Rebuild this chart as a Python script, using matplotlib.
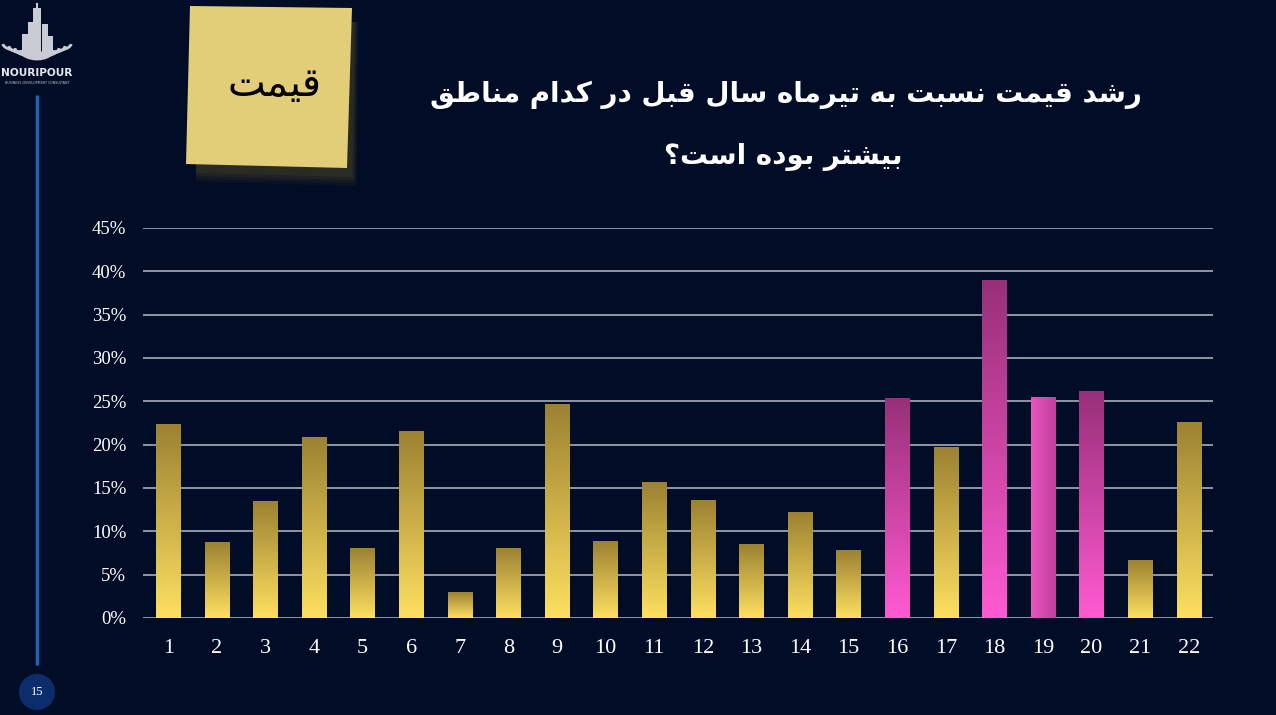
import numpy as np
import matplotlib
matplotlib.use('Agg')
import matplotlib.pyplot as plt
from matplotlib.patches import Polygon, Rectangle, Circle, Arc

# region ids and price growth vs. same quarter last year (fraction)
regions = [str(i) for i in range(1, 23)]
growth = [0.223, 0.087, 0.134, 0.208, 0.080, 0.215, 0.030, 0.080, 0.246, 0.088, 0.156,
          0.136, 0.085, 0.122, 0.078, 0.253, 0.197, 0.389, 0.255, 0.261, 0.066, 0.226]
# regions highlighted in pink
highlight = ['16', '18', '19', '20']
y_ticks = [0.0, 0.05, 0.10, 0.15, 0.20, 0.25, 0.30, 0.35, 0.40, 0.45]

title_line1 = 'رشد قیمت نسبت به تیرماه سال قبل در کدام مناطق'
title_line2 = 'بیشتر بوده است؟'
note_text = 'قیمت'
page_no = '15'

BG = '#010d27'

# --- tiny persian shaper (matplotlib has no arabic shaping) ---
FORMS = {  # isolated, final, initial, medial
    'ا': ('\uFE8D', '\uFE8E', None, None),
    'ب': ('\uFE8F', '\uFE90', '\uFE91', '\uFE92'),
    'ت': ('\uFE95', '\uFE96', '\uFE97', '\uFE98'),
    'د': ('\uFEA9', '\uFEAA', None, None),
    'ر': ('\uFEAD', '\uFEAE', None, None),
    'س': ('\uFEB1', '\uFEB2', '\uFEB3', '\uFEB4'),
    'ش': ('\uFEB5', '\uFEB6', '\uFEB7', '\uFEB8'),
    'ط': ('\uFEC1', '\uFEC2', '\uFEC3', '\uFEC4'),
    'ق': ('\uFED5', '\uFED6', '\uFED7', '\uFED8'),
    'ل': ('\uFEDD', '\uFEDE', '\uFEDF', '\uFEE0'),
    'م': ('\uFEE1', '\uFEE2', '\uFEE3', '\uFEE4'),
    'ن': ('\uFEE5', '\uFEE6', '\uFEE7', '\uFEE8'),
    'ه': ('\uFEE9', '\uFEEA', '\uFEEB', '\uFEEC'),
    'و': ('\uFEED', '\uFEEE', None, None),
    'ی': ('\uFBFC', '\uFBFD', '\uFBFE', '\uFBFF'),
    'ک': ('\uFB8E', '\uFB8F', '\uFB90', '\uFB91'),
}


def shape(text):
    out = []
    n = len(text)
    for i, ch in enumerate(text):
        if ch not in FORMS:
            out.append(ch)
            continue
        prev = text[i - 1] if i > 0 else ''
        nxt = text[i + 1] if i < n - 1 else ''
        join_prev = prev in FORMS and FORMS[prev][2] is not None
        join_next = nxt in FORMS and FORMS[ch][2] is not None
        iso, fin, ini, med = FORMS[ch]
        if join_prev and join_next:
            out.append(med)
        elif join_prev:
            out.append(fin)
        elif join_next:
            out.append(ini)
        else:
            out.append(iso)
    return ''.join(out)[::-1]


fig = plt.figure(figsize=(12.76, 7.15), dpi=100, facecolor=BG)

# background layer in pixel coordinates for the slide decorations
bg = fig.add_axes([0, 0, 1, 1], zorder=0)
bg.set_xlim(0, 1276)
bg.set_ylim(715, 0)
bg.axis('off')

# logo: skyline + open book
gray = '#c9ccd3'
for x0, w, top in [(33, 8, 8), (28, 6, 22), (42, 6, 24), (22, 6, 34), (48, 5, 36), (36, 4, 16)]:
    bg.add_patch(Rectangle((x0, top), w, 54 - top, color=gray, lw=0))
bg.add_patch(Rectangle((36, 3), 2, 6, color=gray, lw=0))
for r, cy in [(12, 50), (18, 48), (24, 46), (30, 44)]:
    bg.add_patch(Arc((37, cy), 2 * r + 8, 18, theta1=0, theta2=180, color=gray, lw=2.0))
bg.text(37, 73, 'NOURIPOUR', color='#e6e8ee', fontsize=7.6, fontweight='bold',
        ha='center', va='center', family='DejaVu Sans')
bg.text(37, 83, 'BUSINESS DEVELOPMENT CONSULTANT', color='#c0c4cc', fontsize=2.3,
        ha='center', va='center')

# side line and page number
bg.plot([37, 37], [95, 665], color='#1d66bd', lw=2.5, solid_capstyle='butt')
bg.add_patch(Circle((37, 692), 18, color='#0b2d6c', lw=0))
bg.text(37, 692, page_no, color='white', fontsize=9, ha='center', va='center',
        family='Liberation Serif')

# sticky note with shadow
for k, a in enumerate([0.07, 0.09, 0.11, 0.14]):
    d = 14 - k * 3
    bg.add_patch(Polygon([(196, 20), (352 + d * 0.5, 22), (350 + d * 0.5, 172 + d),
                          (196, 168 + d)], closed=True, color='#7a6a22', alpha=a, lw=0))
bg.add_patch(Polygon([(190, 6), (352, 8), (347, 168), (186, 164)], closed=True,
                     color='#e2ce79', lw=0))
bg.text(274, 85, shape(note_text), color='black', fontsize=29, ha='center',
        va='center', family='DejaVu Sans')

# title
bg.text(786, 95, shape(title_line1), color='white', fontsize=20, fontweight='bold',
        ha='center', va='center', family='DejaVu Sans')
bg.text(783, 157, shape(title_line2), color='white', fontsize=20, fontweight='bold',
        ha='center', va='center', family='DejaVu Sans')

# chart
ax = fig.add_axes([143 / 1276, 1 - 618 / 715, (1213 - 143) / 1276, (618 - 228) / 715], zorder=2)
ax.set_facecolor('none')
x = np.arange(1, len(regions) + 1)
bars = ax.bar(x, growth, width=0.5, color='none', zorder=3)

gold = ['#9c8232', '#fddf60']
pink = ['#983079', '#ff5ad2']
for rect, reg in zip(bars, regions):
    x0, y0 = rect.get_x(), rect.get_y()
    w, h = rect.get_width(), rect.get_height()
    top_c, bot_c = pink if reg in highlight else gold
    c1 = np.array(matplotlib.colors.to_rgb(top_c))
    c2 = np.array(matplotlib.colors.to_rgb(bot_c))
    if reg == '19':
        # this one is shaded left to right
        t = np.linspace(0, 1, 64)[None, :, None]
        img = np.repeat(c2 * 0.92 * (1 - t) + (c1 * 0.6 + c2 * 0.4) * t, 2, axis=0)
        img = np.clip(img, 0, 1)
    else:
        t = np.linspace(0, 1, 128)[:, None, None]
        img = c1 * (1 - t) + c2 * t
    ax.imshow(img, extent=(x0, x0 + w, y0, y0 + h), aspect='auto', zorder=3,
              interpolation='bilinear')

ax.set_xlim(0.48, 22.5)
ax.set_ylim(0, 0.45)
ax.set_yticks(y_ticks)
ax.set_yticklabels(['{:.0f}%'.format(v * 100) for v in y_ticks])
ax.set_xticks(x)
ax.set_xticklabels(regions)
ax.grid(axis='y', color='#b4bbc8', lw=1.1, zorder=1)
ax.tick_params(length=0, colors='white')
ax.tick_params(axis='y', pad=12, labelsize=13.5)
ax.tick_params(axis='x', pad=15, labelsize=16)
for lab in ax.get_xticklabels() + ax.get_yticklabels():
    lab.set_family('Liberation Serif')
for s in ax.spines.values():
    s.set_visible(False)

fig.savefig('out.png', dpi=100, facecolor=BG)
